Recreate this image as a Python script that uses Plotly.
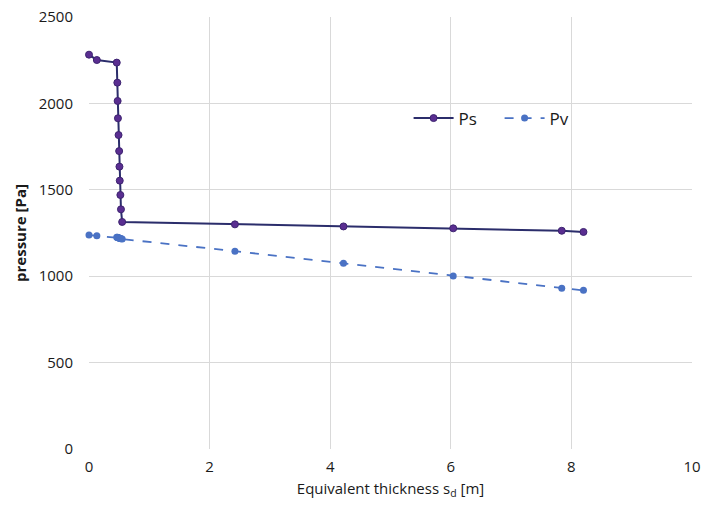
import plotly.graph_objects as go

sd = [0.0, 0.13, 0.46, 0.47, 0.475, 0.48, 0.49, 0.50, 0.505, 0.51, 0.52, 0.53, 0.55, 2.42, 4.22, 6.04, 7.84, 8.2]
ps = [2282, 2251, 2236, 2120, 2014, 1914, 1817, 1724, 1634, 1553, 1470, 1387, 1314, 1300, 1288, 1277, 1263, 1256]
pv = [1238, 1234, 1226, 1225, 1224, 1223, 1222, 1221, 1220, 1219, 1218, 1217, 1215, 1145, 1075, 1001, 930, 918]

x_ticks = [0, 2, 4, 6, 8, 10]
y_ticks = [0, 500, 1000, 1500, 2000, 2500]

font = "Open Sans"
fig = go.Figure()
fig.add_trace(go.Scatter(x=sd, y=ps, name="Ps    ", mode="lines+markers", cliponaxis=False,
                         line=dict(color="#2B2D6B", width=2),
                         marker=dict(color="#5A2E91", size=7, line=dict(color="#3D2470", width=1))))
fig.add_trace(go.Scatter(x=sd, y=pv, name="Pv", mode="lines+markers", cliponaxis=False,
                         line=dict(color="#4A72C4", width=1.8, dash="dash"),
                         marker=dict(color="#4A72C4", size=7)))

fig.update_layout(
    width=706, height=510,
    margin=dict(l=89, r=14, t=17, b=61),
    paper_bgcolor="white", plot_bgcolor="white",
    font=dict(family=font, size=15, color="#1a1a1a"),
    showlegend=True,
    legend=dict(orientation="h", x=0.53, y=0.765, xanchor="left", yanchor="middle",
                font=dict(size=17, color="#1a1a1a"), bgcolor="rgba(0,0,0,0)",
                itemwidth=40, tracegroupgap=0),
    xaxis=dict(range=[0, 10], tickvals=x_ticks, showgrid=True, gridcolor="#D9D9D9",
               gridwidth=1, zeroline=False, showline=False, ticks="outside", ticklen=4,
               tickcolor="rgba(0,0,0,0)", automargin=False, ticklabeloverflow="allow",
               title=dict(text="Equivalent thickness s<sub>d</sub> [m]", font=dict(size=15), standoff=8)),
    yaxis=dict(range=[0, 2500], tickvals=y_ticks, showgrid=True, gridcolor="#D9D9D9",
               gridwidth=1, zeroline=False, showline=False, ticks="outside", ticklen=12,
               tickcolor="rgba(0,0,0,0)", automargin=False, ticklabeloverflow="allow",
               title=dict(text="<b>pressure [Pa]</b>", font=dict(size=15), standoff=8)),
)
fig.write_html("out.html", config={"displayModeBar": False},
               post_script="document.body.style.margin='0';")
